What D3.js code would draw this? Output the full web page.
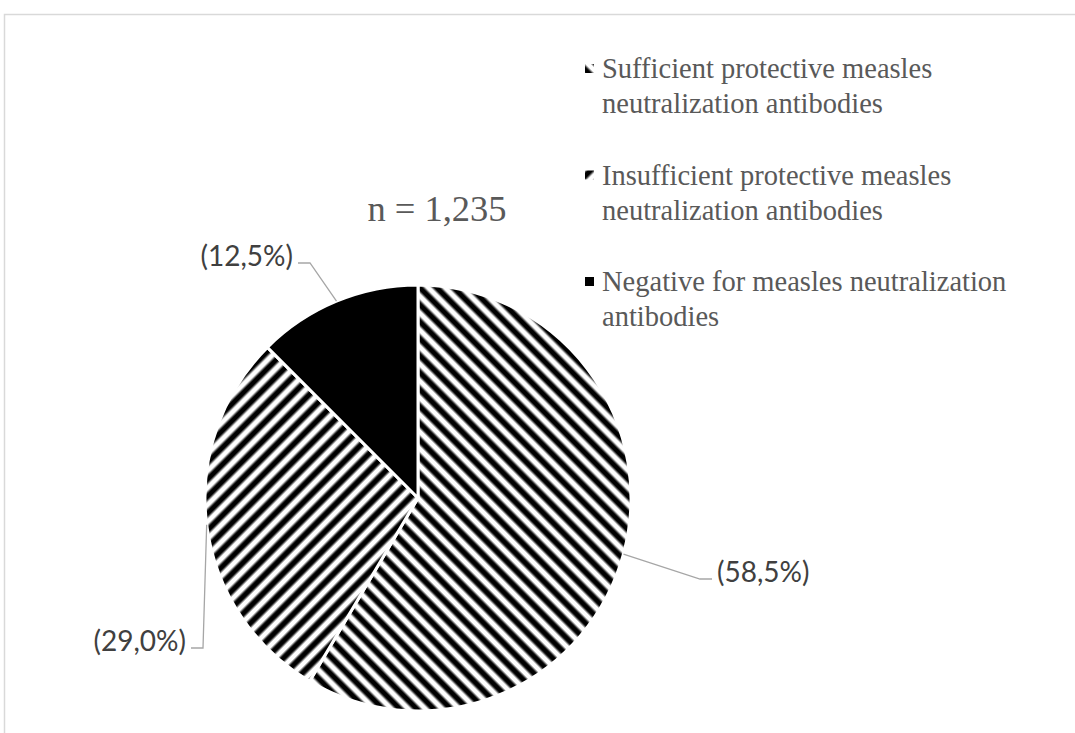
<!DOCTYPE html>
<html>
<head>
<meta charset="utf-8">
<script src="https://cdn.jsdelivr.net/npm/d3@7"></script>
<style>
  body { margin: 0; background: #fff; }
  svg { display: block; }
</style>
</head>
<body>
<svg class="pieChart"></svg>
<script>
// data
const categories = [
    "Sufficient protective measles neutralization antibodies",
    "Insufficient protective measles neutralization antibodies",
    "Negative for measles neutralization antibodies"
];
const legendLines = [
    ["Sufficient protective measles", "neutralization antibodies"],
    ["Insufficient protective measles", "neutralization antibodies"],
    ["Negative for measles neutralization", "antibodies"]
];
const percents = [58.5, 29.0, 12.5];
const sampleSize = 1235;

// layout only (offsets from pie centre to the elbow of each leader line)
const leaderElbows = [[282, 81], [-215, 150], [-108, -235]];
const leaderSide = [1, -1, -1];

const width = 1075, height = 733;
const cx = 418, cy = 498, radius = 213;

const svg = d3.select("svg.pieChart")
    .attr("width", width)
    .attr("height", height);

const defs = svg.append("defs");

// soft stripe, like the blurred excel hatch
const grad = defs.append("linearGradient")
    .attr("id", "softStripe")
    .attr("x1", 0).attr("y1", 0).attr("x2", 0).attr("y2", 1);
[[0, "#fff"], [0.14, "#fff"], [0.34, "#000"], [0.66, "#000"], [0.86, "#fff"], [1, "#fff"]]
    .forEach(s => grad.append("stop").attr("offset", s[0]).attr("stop-color", s[1]));

const period = 12;
function stripePattern(id, angle) {
    const p = defs.append("pattern")
        .attr("id", id)
        .attr("patternUnits", "userSpaceOnUse")
        .attr("width", period)
        .attr("height", period)
        .attr("patternTransform", `rotate(${angle})`);
    p.append("rect")
        .attr("width", period)
        .attr("height", period)
        .attr("fill", "url(#softStripe)");
}
stripePattern("hatchDown", 45);   // "\" lines
stripePattern("hatchUp", -45);    // "/" lines

const fills = ["url(#hatchDown)", "url(#hatchUp)", "#000"];

// chart frame (only top and left edge are inside the crop)
svg.append("rect")
    .attr("x", 4.5).attr("y", 14.5)
    .attr("width", 1200).attr("height", 1000)
    .attr("fill", "none")
    .attr("stroke", "#d9d9d9")
    .attr("stroke-width", 1.5);

const pie = d3.pie().sort(null).value(d => d);
const arcs = pie(percents);

const arc = d3.arc().innerRadius(0).outerRadius(radius);

const pieGroup = svg.append("g")
    .attr("transform", `translate(${cx},${cy})`);

pieGroup.selectAll("path")
    .data(arcs)
    .enter()
    .append("path")
    .attr("d", arc)
    .attr("fill", (d, i) => fills[i])
    .attr("stroke", "#fff")
    .attr("stroke-width", 3)
    .attr("stroke-linejoin", "round");

// leader lines and labels
const commaLocale = d3.formatLocale({ decimal: ",", thousands: ".", grouping: [3], currency: ["", ""] });
const pctFormat = commaLocale.format(".1f");

arcs.forEach((d, i) => {
    const a = (d.startAngle + d.endAngle) / 2;
    const start = [Math.sin(a) * radius, -Math.cos(a) * radius];
    const elbow = leaderElbows[i];
    const end = [elbow[0] + leaderSide[i] * 12, elbow[1]];

    pieGroup.append("path")
        .attr("d", d3.line()([start, elbow, end]))
        .attr("fill", "none")
        .attr("stroke", "#a6a6a6")
        .attr("stroke-width", 1.3);

    pieGroup.append("text")
        .attr("x", end[0] + leaderSide[i] * 5)
        .attr("y", end[1] + 3)
        .attr("text-anchor", leaderSide[i] > 0 ? "start" : "end")
        .style("font-family", "Lato, 'Open Sans', sans-serif")
        .style("font-size", "28px")
        .style("fill", "#404040")
        .text("(" + pctFormat(d.data) + "%)");
});

// title
svg.append("text")
    .attr("x", 437)
    .attr("y", 221)
    .attr("text-anchor", "middle")
    .style("font-family", "'Liberation Serif', serif")
    .style("font-size", "36.5px")
    .style("fill", "#595959")
    .text("n = " + d3.format(",")(sampleSize));

// legend
const legend = svg.append("g")
    .attr("class", "legend")
    .attr("transform", "translate(585, 0)");

const items = legend.selectAll("g")
    .data(categories)
    .enter()
    .append("g")
    .attr("transform", (d, i) => `translate(0, ${78 + i * 106.5})`);

items.append("rect")
    .attr("x", 0)
    .attr("y", -14)
    .attr("width", 9)
    .attr("height", 9)
    .attr("fill", (d, i) => fills[i]);

items.append("text")
    .style("font-family", "'Liberation Serif', serif")
    .style("font-size", "28.5px")
    .style("fill", "#595959")
    .selectAll("tspan")
    .data((d, i) => legendLines[i])
    .enter()
    .append("tspan")
    .attr("x", 17)
    .attr("dy", (d, j) => j === 0 ? 0 : 35)
    .text(d => d);
</script>
</body>
</html>
